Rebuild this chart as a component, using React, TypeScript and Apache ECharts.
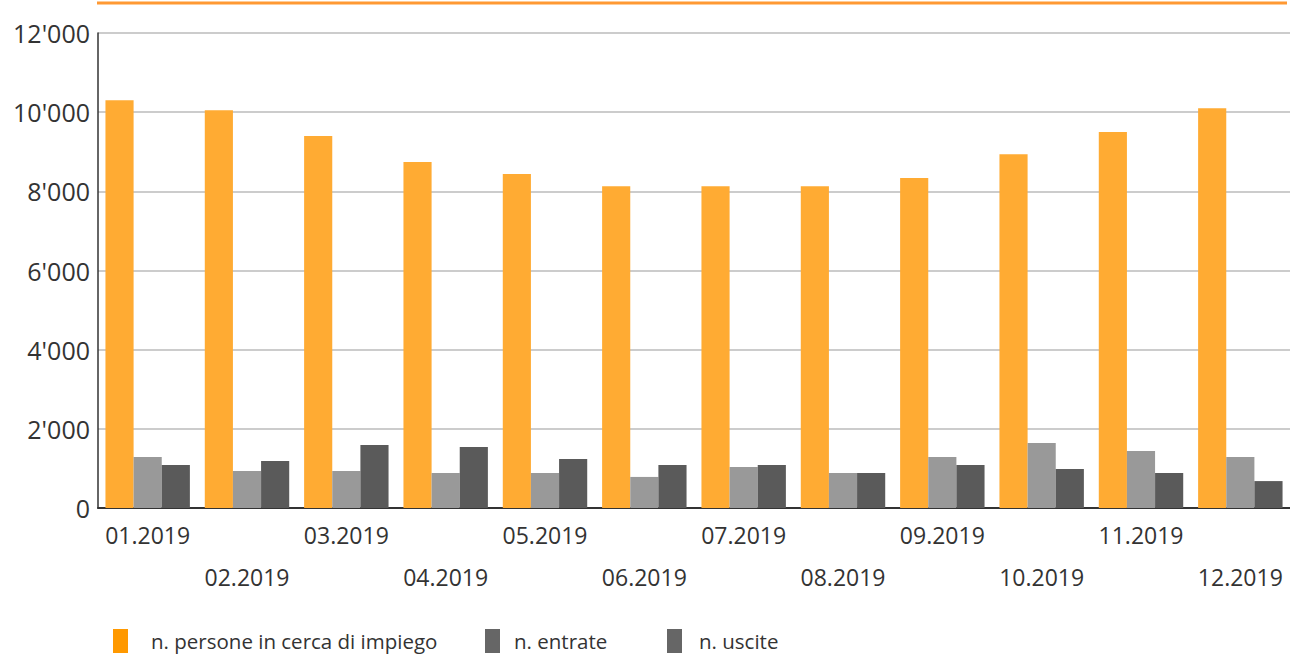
import React, { useEffect, useRef } from "react";
import * as echarts from "echarts";

const categories = ["01.2019", "02.2019", "03.2019", "04.2019", "05.2019", "06.2019", "07.2019", "08.2019", "09.2019", "10.2019", "11.2019", "12.2019"];
const persone = [10300, 10050, 9400, 8740, 8440, 8130, 8130, 8130, 8340, 8940, 9500, 10100];
const entrate = [1290, 935, 935, 885, 885, 785, 1035, 885, 1290, 1640, 1440, 1290];
const uscite = [1085, 1185, 1590, 1540, 1240, 1085, 1085, 885, 1085, 985, 885, 680];
const yTicks = [0, 2000, 4000, 6000, 8000, 10000, 12000];
const seriesNames = ["n. persone in cerca di impiego", "n. entrate", "n. uscite"];
const legendColors = ["#FF9900", "#666666", "#666666"];

const FONT = "'Open Sans', sans-serif";

export default function App() {
  const ref = useRef<HTMLDivElement>(null);
  useEffect(() => {
    if (!ref.current) return;
    const chart = echarts.init(ref.current, undefined, { renderer: "svg" });
    const legendLefts = [108, 480, 662];
    const legendPads = [18, 9, 12];
    chart.setOption({
      animation: false,
      textStyle: { fontFamily: FONT },
      grid: { left: 98, right: 0, top: 33, bottom: 146, containLabel: false },
      graphic: [
        {
          type: "line",
          shape: { x1: 97, y1: 3, x2: 1287, y2: 3 },
          style: { stroke: "#FF9933", lineWidth: 3 },
        },
      ],
      legend: seriesNames.map((n, i) => ({
        left: legendLefts[i],
        top: 624,
        padding: [5, 5, 0, 5],
        itemWidth: 15,
        itemHeight: 24,
        icon: "rect",
        selectedMode: false,
        textStyle: { fontFamily: FONT, fontSize: 20.5, lineHeight: 20, color: "#333", padding: [0, 0, 0, legendPads[i]] },
        data: [{ name: n, itemStyle: { color: legendColors[i] } }],
      })),
      xAxis: {
        type: "category",
        data: categories,
        axisLine: { lineStyle: { color: "#333", width: 2 } },
        axisTick: { show: false },
        axisLabel: {
          interval: 0,
          margin: 6,
          fontSize: 23,
          color: "#333",
          fontFamily: FONT,
          lineHeight: 42,
          formatter: (v: string, i: number) => (i % 2 === 1 ? "\n" + v : v),
        },
      },
      yAxis: {
        type: "value",
        min: yTicks[0],
        max: yTicks[yTicks.length - 1],
        interval: 2000,
        axisLine: { show: true, lineStyle: { color: "#333", width: 1.5 } },
        axisTick: { show: false },
        splitLine: { lineStyle: { color: "#bbbbbb", width: 1.5 } },
        axisLabel: {
          margin: 8,
          fontSize: 25,
          color: "#333",
          fontFamily: FONT,
          formatter: (v: number) => {
            const s = String(v);
            return s.length > 3 ? s.slice(0, s.length - 3) + "'" + s.slice(-3) : s;
          },
        },
      },
      series: [
        {
          name: seriesNames[0],
          type: "bar",
          data: persone,
          barGap: "0%",
          barCategoryGap: "15%",
          itemStyle: { color: "#FFAB33" },
        },
        {
          name: seriesNames[1],
          type: "bar",
          data: entrate,
          barGap: "0%",
          barCategoryGap: "15%",
          itemStyle: { color: "#999999" },
        },
        {
          name: seriesNames[2],
          type: "bar",
          data: uscite,
          barGap: "0%",
          barCategoryGap: "15%",
          itemStyle: { color: "#5A5A5A" },
        },
      ],
    });
    return () => chart.dispose();
  }, []);
  return <div ref={ref} style={{ width: 1290, height: 654, position: "absolute", left: 0, top: 0 }} />;
}
